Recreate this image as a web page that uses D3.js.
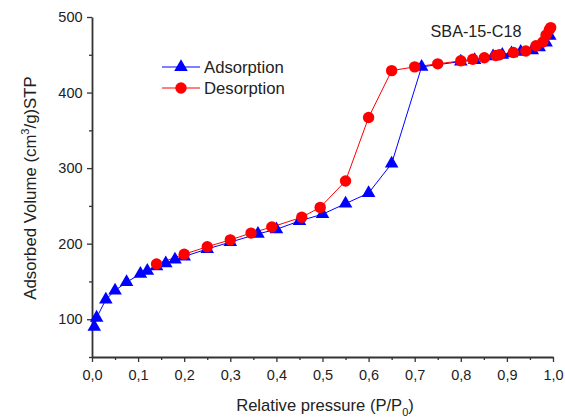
<!DOCTYPE html>
<html lang="en">
<head>
    <meta charset="UTF-8">
    <title>SBA-15-C18 isotherm</title>
    <style>
        body { margin: 0; background: #fff; }
        text { font-family: "Liberation Sans", Arial, sans-serif; fill: #222; }
    </style>
</head>
<body>
    <script src="https://d3js.org/d3.v7.min.js"></script>
    <script>
        // adsorption branch
        let adsX = [0.005, 0.01, 0.03, 0.05, 0.075, 0.105, 0.12, 0.14, 0.16, 0.18, 0.2,
                    0.25, 0.3, 0.36, 0.4, 0.45, 0.5, 0.55, 0.6, 0.65, 0.715,
                    0.8, 0.83, 0.87, 0.89, 0.91, 0.93, 0.955, 0.97, 0.985, 0.993];
        let adsY = [90, 102, 126, 138, 149, 160, 164, 170, 174, 179, 183,
                    193, 202, 213, 219, 230, 239, 253, 267, 306, 434,
                    441, 443, 448, 450, 452, 454, 456, 460, 466, 475];

        // desorption branch
        let desX = [0.14, 0.2, 0.25, 0.3, 0.345, 0.39, 0.455, 0.495, 0.55, 0.6, 0.65,
                    0.70, 0.75, 0.80, 0.826, 0.851, 0.876, 0.884, 0.914, 0.941,
                    0.963, 0.978, 0.985, 0.992, 0.995];
        let desY = [173, 186, 196, 205, 214, 222, 235, 248, 283, 367, 429,
                    434, 438, 442, 444, 446, 449, 450, 453, 455,
                    462, 467, 476, 483, 486];

        let xTicks = [0, 0.1, 0.2, 0.3, 0.4, 0.5, 0.6, 0.7, 0.8, 0.9, 1.0];
        let yTicks = [100, 200, 300, 400, 500];

        let W = 565, H = 417;
        let svg = d3.select("body").append("svg")
            .attr("width", W)
            .attr("height", H);

        let x = d3.scaleLinear().domain([0, 1]).range([92, 553]);
        let y = d3.scaleLinear().domain([50, 500]).range([357, 17]);

        let fmt = d => d3.format(".1f")(d).replace(".", ",");

        // minor ticks
        svg.append("g")
            .attr("transform", "translate(0,357)")
            .call(d3.axisBottom(x).tickValues(d3.range(0.05, 1, 0.1)).tickSize(3).tickFormat(""))
            .call(g => g.select(".domain").remove());
        svg.append("g")
            .attr("transform", "translate(92,0)")
            .call(d3.axisLeft(y).tickValues([50, 150, 250, 350, 450]).tickSize(3).tickFormat(""))
            .call(g => g.select(".domain").remove());

        let xAxis = svg.append("g")
            .attr("transform", "translate(0,357)")
            .call(d3.axisBottom(x).tickValues(xTicks).tickSize(5).tickSizeOuter(0).tickFormat(fmt));
        let yAxis = svg.append("g")
            .attr("transform", "translate(92,0)")
            .call(d3.axisLeft(y).tickValues(yTicks).tickSize(5).tickSizeOuter(0));

        svg.selectAll(".tick line").attr("stroke", "#333").attr("stroke-width", 1.3);
        svg.selectAll(".domain").attr("stroke", "#333").attr("stroke-width", 1.8);
        xAxis.selectAll("text").attr("font-size", 14.5).attr("dy", "1.0em");
        yAxis.selectAll("text").attr("font-size", 14.5).attr("dx", "-0.1em");
        svg.selectAll(".tick text").style("fill", "#222")
            .style("font-family", "'Liberation Sans', Arial, sans-serif");

        let ads = adsX.map((v, i) => [v, adsY[i]]);
        let des = desX.map((v, i) => [v, desY[i]]);
        let line = d3.line().x(d => x(d[0])).y(d => y(d[1]));
        let tri = d3.symbol().type(d3.symbolTriangle).size(80);

        svg.append("path").datum(ads)
            .attr("d", line).attr("fill", "none")
            .attr("stroke", "#0000ff").attr("stroke-width", 1);
        svg.append("path").datum(des)
            .attr("d", line).attr("fill", "none")
            .attr("stroke", "#ff0000").attr("stroke-width", 1);

        svg.selectAll(".ads").data(ads).enter().append("path")
            .attr("class", "ads")
            .attr("d", tri)
            .attr("transform", d => `translate(${x(d[0])},${y(d[1])})`)
            .attr("fill", "#0000ff");
        svg.selectAll(".des").data(des).enter().append("circle")
            .attr("class", "des")
            .attr("r", 5.7)
            .attr("cx", d => x(d[0]))
            .attr("cy", d => y(d[1]))
            .attr("fill", "#ff0000");

        // legend
        let legend = [["Adsorption", "#0000ff", "tri"], ["Desorption", "#ff0000", "circ"]];
        legend.forEach(function(l, i) {
            let ly = 67 + i * 21;
            svg.append("line").attr("x1", 162).attr("x2", 200)
                .attr("y1", ly).attr("y2", ly)
                .attr("stroke", l[1]).attr("stroke-width", 1);
            if (l[2] === "tri") {
                svg.append("path").attr("d", tri)
                    .attr("transform", `translate(181,${ly})`).attr("fill", l[1]);
            } else {
                svg.append("circle").attr("cx", 181).attr("cy", ly).attr("r", 5.7).attr("fill", l[1]);
            }
            svg.append("text").attr("x", 204).attr("y", ly + 6)
                .attr("font-size", 16.7).text(l[0]);
        });

        svg.append("text").attr("x", 476).attr("y", 37)
            .attr("text-anchor", "middle").attr("font-size", 16.2).text("SBA-15-C18");

        // axis titles
        let xl = svg.append("text").attr("x", 325).attr("y", 411)
            .attr("text-anchor", "middle").attr("font-size", 16.6);
        xl.append("tspan").text("Relative pressure (P/P");
        xl.append("tspan").attr("font-size", 11).attr("dy", 5).text("0");
        xl.append("tspan").attr("dy", -5).text(")");

        let yl = svg.append("text")
            .attr("transform", "translate(36,188) rotate(-90)")
            .attr("text-anchor", "middle").attr("font-size", 16.8);
        yl.append("tspan").text("Adsorbed Volume (cm");
        yl.append("tspan").attr("font-size", 11).attr("dy", -7).text("3");
        yl.append("tspan").attr("dy", 7).text("/g)STP");
    </script>
</body>
</html>
